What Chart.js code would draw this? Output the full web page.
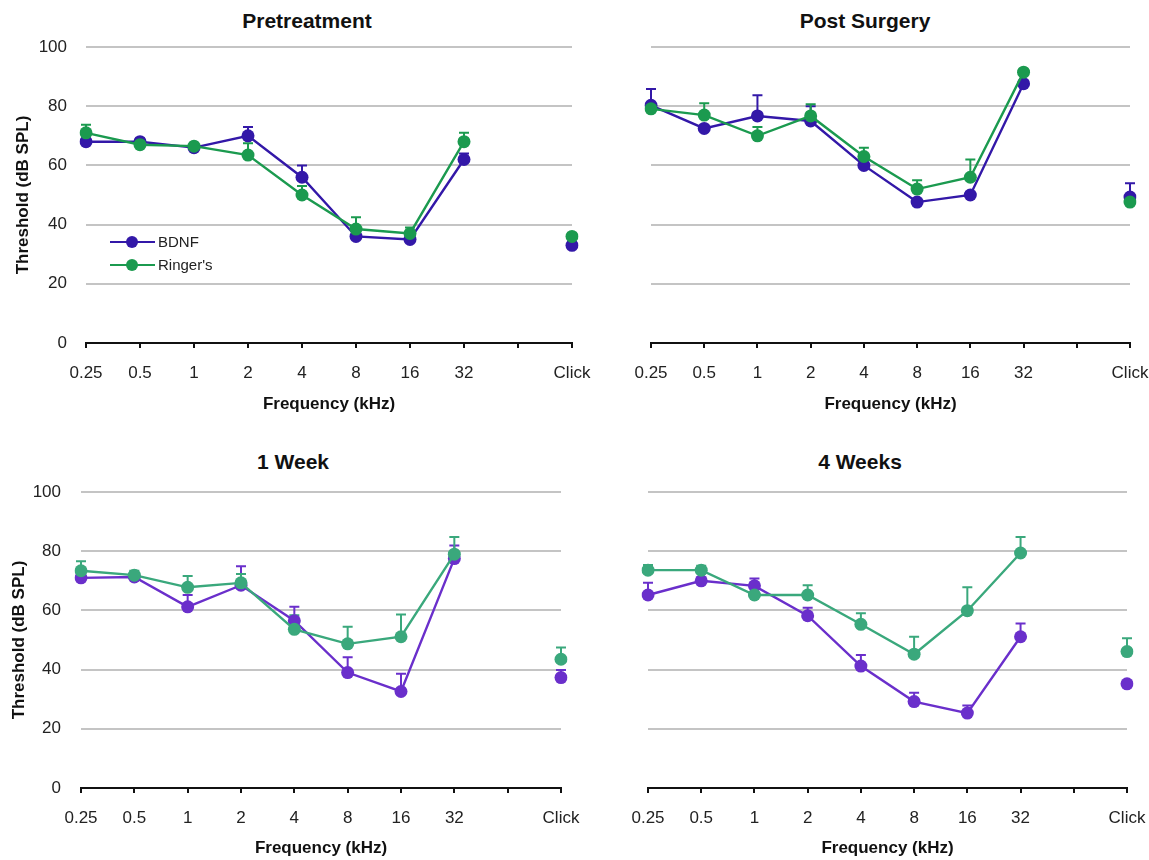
<!DOCTYPE html>
<html>
<head>
<meta charset="utf-8">
<script src="https://cdn.jsdelivr.net/npm/chart.js@4.4.1/dist/chart.umd.min.js"></script>
<style>
  body { margin: 0; background: #fff; width: 1149px; height: 860px; overflow: hidden; position: relative; font-family: "Liberation Sans", Arial, sans-serif; }
  canvas { position: absolute; }
  .title { position: absolute; font-weight: bold; font-size: 21px; line-height: 1; color: #111; transform: translate(-50%, -50%); white-space: nowrap; }
</style>
</head>
<body>
<div class="title" style="left:307px;top:20px">Pretreatment</div>
<div class="title" style="left:865px;top:20px">Post Surgery</div>
<div class="title" style="left:293px;top:461px">1 Week</div>
<div class="title" style="left:860px;top:461px">4 Weeks</div>

<canvas id="pre" width="606" height="420" style="left:0;top:0"></canvas>
<canvas id="post" width="604" height="420" style="left:560px;top:0"></canvas>
<canvas id="week1" width="600" height="420" style="left:0;top:440px"></canvas>
<canvas id="week4" width="601" height="420" style="left:560px;top:440px"></canvas>

<script>
// frequency categories (blank slot before Click)
const freqLabels = ['0.25', '0.5', '1', '2', '4', '8', '16', '32', '', 'Click'];

// Pretreatment
const preBdnf = [68, 68, 66, 70, 56, 36, 35, 62, null, 33];
const preBdnfErr = [1, 1, 1, 3, 4, 1.5, 1, 2, null, 1];
const preRinger = [71, 67, 66.5, 63.5, 50, 38.5, 37, 68, null, 36];
const preRingerErr = [2.7, 1, 1, 4, 3, 4, 2, 3, null, 1];

// Post Surgery
const postBdnf = [80.3, 72.5, 76.7, 75, 60, 47.6, 50, 87.6, null, 49.3];
const postBdnfErr = [5.5, 1, 7, 5, 2, 1, 1, 1, null, 4.7];
const postRinger = [79.1, 77, 70, 76.7, 63, 52, 56, 91.5, null, 47.6];
const postRingerErr = [1, 4, 3, 4, 3, 3, 6, 1, null, 1];

// 1 Week
const wk1Bdnf = [71, 71.3, 61.2, 68.5, 56.5, 39, 32.6, 77.5, null, 37.3];
const wk1BdnfErr = [1, 1, 4, 6.4, 4.7, 5.2, 6, 4.4, null, 2.6];
const wk1Ringer = [73.4, 71.9, 67.8, 69.3, 53.6, 48.7, 51.1, 79, null, 43.5];
const wk1RingerErr = [3.2, 1.5, 3.8, 3, 4.8, 5.8, 7.5, 5.8, null, 4];

// 4 Weeks
const wk4Bdnf = [65.2, 70, 68.3, 58.2, 41.2, 29.2, 25.3, 51.1, null, 35.2];
const wk4BdnfErr = [4.1, 1, 2.5, 2.7, 3.7, 3, 2.6, 4.5, null, 0];
const wk4Ringer = [73.6, 73.6, 65.2, 65.2, 55.3, 45.2, 59.9, 79.4, null, 46.1];
const wk4RingerErr = [1.7, 1.5, 1, 3.3, 3.7, 5.9, 7.9, 5.4, null, 4.5];

const FONT = '"Liberation Sans", Arial, sans-serif';
const TOP_COLORS = { bdnf: '#3318a8', ringer: '#1b9a4f' };
const BOTTOM_COLORS = { bdnf: '#6a2fcb', ringer: '#3aa87c' };

// upward-only error bars with a cap
const errorBars = {
    id: 'errorBars',
    beforeDatasetsDraw(chart) {
        const { ctx, scales: { x, y } } = chart;
        // draw lower layers first so the top series' bars sit over
        const sets = [...chart.data.datasets].sort((a, b) => b.order - a.order);
        sets.forEach(ds => {
            ctx.save();
            ctx.strokeStyle = ds.borderColor;
            ctx.lineWidth = 2;
            ds.data.forEach((v, i) => {
                const e = ds.err[i];
                if (v == null || !e) return;
                const px = x.getPixelForValue(i);
                const y0 = y.getPixelForValue(v);
                const y1 = y.getPixelForValue(v + e);
                ctx.beginPath();
                ctx.moveTo(px, y0);
                ctx.lineTo(px, y1);
                ctx.moveTo(px - 5, y1);
                ctx.lineTo(px + 5, y1);
                ctx.stroke();
            });
            ctx.restore();
        });
    }
};

// small legend sitting inside the first panel
const insideLegend = {
    id: 'insideLegend',
    afterDraw(chart) {
        const ctx = chart.ctx;
        const items = [
            { text: 'BDNF', color: TOP_COLORS.bdnf, y: 242 },
            { text: "Ringer's", color: TOP_COLORS.ringer, y: 265 }
        ];
        ctx.save();
        items.forEach(it => {
            ctx.strokeStyle = it.color;
            ctx.lineWidth = 2;
            ctx.beginPath();
            ctx.moveTo(110, it.y);
            ctx.lineTo(155, it.y);
            ctx.stroke();
            ctx.fillStyle = it.color;
            ctx.beginPath();
            ctx.arc(132, it.y, 6, 0, Math.PI * 2);
            ctx.fill();
            ctx.fillStyle = '#222';
            ctx.font = '15px ' + FONT;
            ctx.textBaseline = 'middle';
            ctx.fillText(it.text, 158, it.y + 1);
        });
        ctx.restore();
    }
};

function makePanel(id, p) {
    const ds = (label, data, err, color, order) => ({
        label, data, err, order,
        borderColor: color,
        backgroundColor: color,
        borderWidth: 2.4,
        pointRadius: 6.5,
        pointHoverRadius: 6.5,
        pointBorderWidth: 0,
        tension: 0,
        spanGaps: false
    });

    new Chart(document.getElementById(id), {
        type: 'line',
        data: {
            labels: freqLabels,
            datasets: [
                ds('BDNF', p.bdnf, p.bdnfErr, p.colors.bdnf, 1),
                ds("Ringer's", p.ringer, p.ringerErr, p.colors.ringer, 0)
            ]
        },
        options: {
            responsive: false,
            animation: false,
            layout: { padding: p.padding },
            plugins: {
                legend: { display: false },
                tooltip: { enabled: false }
            },
            scales: {
                x: {
                    type: 'category',
                    offset: false,
                    grid: { display: true, drawOnChartArea: false, drawTicks: true, tickLength: 5, color: '#111', lineWidth: 2 },
                    border: { display: true, color: '#111', width: 2 },
                    ticks: { autoSkip: false, maxRotation: 0, padding: 15, color: '#222', font: { family: FONT, size: 17 } },
                    title: { display: true, text: 'Frequency (kHz)', color: '#111', font: { family: FONT, size: 17, weight: 'bold' }, padding: { top: 0, bottom: p.xTitlePad } },
                    afterFit: s => { s.height = p.xHeight; }
                },
                y: {
                    min: 0,
                    max: 100,
                    grid: {
                        color: c => c.tick && c.tick.value === 0 ? 'rgba(0,0,0,0)' : '#c4c4c4',
                        lineWidth: 2,
                        drawTicks: false
                    },
                    border: { display: false },
                    ticks: { display: p.showY, stepSize: 20, padding: p.yTickPad, color: '#222', font: { family: FONT, size: 17 } },
                    title: { display: p.showY, text: 'Threshold (dB SPL)', color: '#111', font: { family: FONT, size: 17, weight: 'bold' }, padding: { top: p.yTitlePad, bottom: 0 } },
                    afterFit: s => { s.width = p.yWidth; }
                }
            }
        },
        plugins: p.legend ? [errorBars, insideLegend] : [errorBars]
    });
}

makePanel('pre', {
    bdnf: preBdnf, bdnfErr: preBdnfErr, ringer: preRinger, ringerErr: preRingerErr,
    colors: TOP_COLORS, legend: true, showY: true,
    padding: { top: 47, right: 34, bottom: 2, left: 0 },
    yWidth: 86, yTickPad: 19, yTitlePad: 13, xHeight: 75, xTitlePad: 3
});

makePanel('post', {
    bdnf: postBdnf, bdnfErr: postBdnfErr, ringer: postRinger, ringerErr: postRingerErr,
    colors: TOP_COLORS, legend: false, showY: false,
    padding: { top: 47, right: 34, bottom: 2, left: 0 },
    yWidth: 91, yTickPad: 19, yTitlePad: 13, xHeight: 75, xTitlePad: 3
});

makePanel('week1', {
    bdnf: wk1Bdnf, bdnfErr: wk1BdnfErr, ringer: wk1Ringer, ringerErr: wk1RingerErr,
    colors: BOTTOM_COLORS, legend: false, showY: true,
    padding: { top: 52, right: 39, bottom: 0, left: 0 },
    yWidth: 81, yTickPad: 20, yTitlePad: 9, xHeight: 72, xTitlePad: 1
});

makePanel('week4', {
    bdnf: wk4Bdnf, bdnfErr: wk4BdnfErr, ringer: wk4Ringer, ringerErr: wk4RingerErr,
    colors: BOTTOM_COLORS, legend: false, showY: false,
    padding: { top: 52, right: 34, bottom: 0, left: 0 },
    yWidth: 88, yTickPad: 19, yTitlePad: 9, xHeight: 72, xTitlePad: 1
});
</script>
</body>
</html>
